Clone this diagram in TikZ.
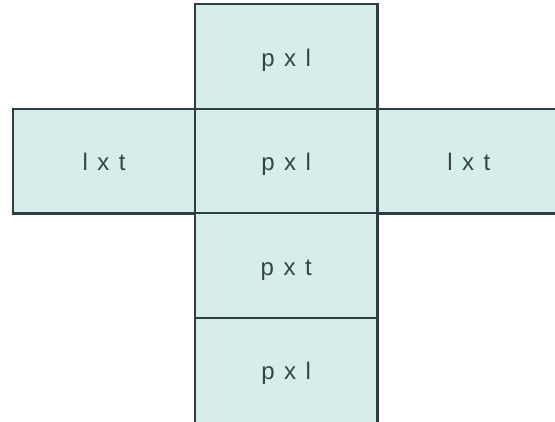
\documentclass[tikz,border=0pt]{standalone}
\usepackage{fontspec}
\setmainfont{Liberation Sans}
\definecolor{facefill}{HTML}{D5EEEA}
\definecolor{edgecol}{HTML}{2E3D43}
\definecolor{txtcol}{HTML}{36444A}
\newcommand{\lgap}{\hspace{9.5pt}}
\begin{document}
\begin{tikzpicture}[x=1pt,y=1pt,
  face/.style={draw=edgecol, line width=2.2pt, fill=facefill, rectangle,
    inner sep=0pt, minimum width=182.5pt, minimum height=104.4pt,
    text=txtcol, font=\fontsize{24}{29}\selectfont,
    text height=19.5pt, text depth=0pt}]
\useasboundingbox (0,0) rectangle (555,421);
\clip (0,0) rectangle (555,421);
\node[face] (top) at (286.25,364.4) {p\lgap x\lgap l};
\node[face] (mid) at (286.25,259.75) {p\lgap x\lgap l};
\node[face, minimum width=181.7pt] (left) at (104.15,259.75) {l\lgap x\lgap t};
\node[face] (right) at (468.75,259.75) {l\lgap x\lgap t};
\node[face] (low) at (286.25,155.4) {p\lgap x\lgap t};
\node[face, minimum height=110pt] (bot) at (286.25,48.3) {};
\node[text=txtcol, font=\fontsize{24}{29}\selectfont, anchor=base] (botlabel) at (286.25,41.5) {p\lgap x\lgap l};
\end{tikzpicture}
\end{document}
